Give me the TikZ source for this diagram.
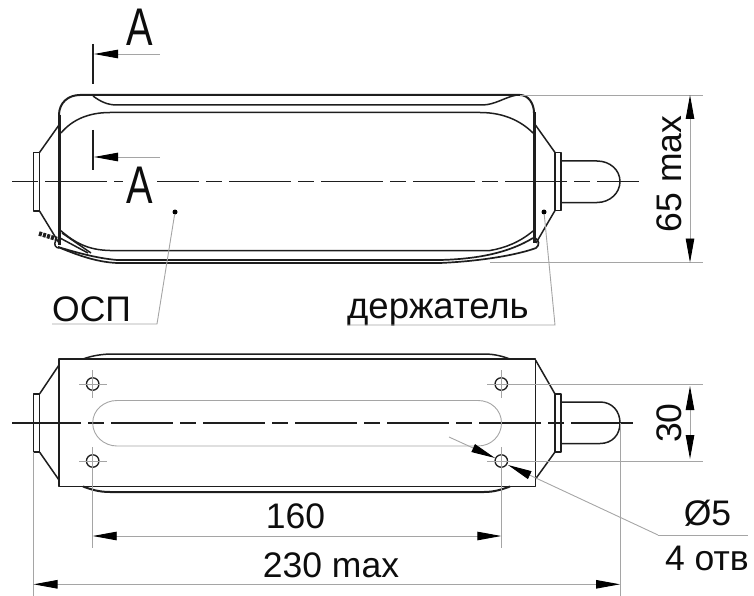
\documentclass[tikz,border=0pt]{standalone}
\usepackage{fontspec}
\setmainfont{Liberation Sans}
\usetikzlibrary{arrows.meta,positioning,calc}
\definecolor{c1}{RGB}{30, 30, 30}
\definecolor{c2}{RGB}{165, 165, 165}
\tikzset{
	body/.style={
		draw=c1, line width=1.5pt, line join=round
	},
	%
	bodythick/.style={
		draw=c1, line width=3pt
	},
	%
	extline/.style={
		draw=c2, line width=0.9pt
	},
	%
	axisline/.style={
		draw=c1, line width=1.4pt, dash pattern=on 62pt off 7pt on 16pt off 7pt
	},
	%
	dimline/.style={
		extline, >={Triangle[length=24pt,width=8.5pt,color=black,fill=black]}
	},
	%
	hole/.style={
		circle, draw=c1, line width=1.3pt, minimum size=12.5pt, inner sep=0pt
	},
	%
	point/.style={
		circle, fill=black, minimum size=5pt, inner sep=0pt
	},
	%
	dimtext/.style={
		font=\fontsize{35.5}{40}\selectfont, inner sep=0pt, text=black!95, anchor=base
	},
	%
	sectext/.style={
		font=\fontsize{53}{55}\selectfont, xscale=0.75, inner ysep=0pt, inner xsep=5pt, text=black!95, anchor=base
	},
	%
	secmark/.style={
		draw=c1, line width=2pt
	}
}

\begin{document}
\begin{tikzpicture}[x=1pt,y=-1pt]
\useasboundingbox (0,0) rectangle (754,596);
% top view
\draw[axisline, dash phase=0pt] (45,181.5) -- (639,181.5);
\draw[axisline, dash pattern=on 26pt off 100pt] (12,181.5) -- (38,181.5);
\draw[body] (59,125) -- (39.5,152.5) (59,243) -- (39.5,211);
\draw[body] (33.5,152.5) rectangle (39.5,211);
\draw[body] (534,123) -- (555,152.5) (555,210.5) -- (536,243);
\draw[body] (555,152.5) rectangle (561,210.5);
\draw[body] (561,161) -- (597,161) .. controls (610,161) and (620,170) .. (620,181.5) .. controls (620,193) and (610,202.5) .. (597,202.5) -- (561,202.5);
\draw[bodythick, line width=2pt] (59,115) .. controls (59,103) and (68,95) .. (80,95) -- (520,95) .. controls (528,95) and (534,103) .. (534,113);
\draw[bodythick] (59,115) -- (59,245);
\draw[bodythick] (534,112) -- (534,243);
\draw[body] (93,96) .. controls (101,102) and (108,105) .. (117,105) -- (482,105) .. controls (495,105) and (505,97) .. (517,95);
\draw[body] (61,133) .. controls (72,120) and (88,112.5) .. (110,112.5) -- (480,112.5) .. controls (505,112.5) and (522,122) .. (533,133);
% lower edge with the loose wires
\draw[body] (60,230) .. controls (75,243) and (88,250) .. (110,250.5) -- (490,250.5) .. controls (505,248) and (520,242) .. (533,231);
\draw[body] (60,238) -- (88,253);
\draw[body] (62,233) -- (91,253);
\draw[body, line width=1.7pt] (58,247) .. controls (75,252) and (95,258) .. (117,260) -- (440,260) .. controls (480,259) and (510,252) .. (533,238);
\draw[body, line width=1.7pt] (58,247) .. controls (75,254) and (95,262) .. (117,263) -- (440,263) .. controls (485,261) and (520,254) .. (536,248) .. controls (540,245) and (539,240) .. (535,238);
\draw[c1, line width=1.5pt] (56,240) .. controls (53,245) and (56,248) .. (59,248);
\draw[c1, line width=4.5pt, dash pattern=on 3pt off 1.2pt] (39,233.5) -- (57,239);
% section marks
\coordinate (secatip) at (94,54);
\coordinate (secatail) at (160,54);
\coordinate (secbtip) at (94,157);
\coordinate (secbtail) at (160,157);
\draw[secmark] (92.5,44) -- (92.5,84);
\draw[secmark] (92.5,130) -- (92.5,170);
\draw[dimline, ->] (secatail) -- (secatip);
\draw[dimline, ->] (secbtail) -- (secbtip);
\node(secatop)[sectext] at (140,46) {A};
\node(secabottom)[sectext, fill=white] at (140,203) {A};
% leaders
\node(ospdot)[point] at (175,212) {};
\node(holderdot)[point] at (544,212) {};
\node(osplabel)[dimtext, anchor=base west] at (52,321) {ОСП};
\node(holderlabel)[dimtext, anchor=base west, font=\fontsize{36.5}{40}\selectfont] at (347,318) {держатель};
\coordinate (ospkink) at (157,324);
\coordinate (ospend) at (52,324);
\coordinate (holderkink) at (555,325);
\coordinate (holderend) at (347,325);
\draw[extline] (ospdot) -- (ospkink) -- (ospend);
\draw[extline] (holderdot) -- (holderkink) -- (holderend);
% height
\coordinate (hta) at (690,95);
\coordinate (htb) at (690,262.5);
\draw[extline] (520,95) -- (703,95);
\draw[extline] (490,262.5) -- (703,262.5);
\draw[dimline, <->] (hta) -- (htb);
\node(height)[dimtext, rotate=90] at (681.7,174) {65 max};
% bottom view
\draw[axisline, dash phase=0pt] (19,423) -- (639,423);
\draw[axisline, dash pattern=on 7pt off 100pt] (12,423) -- (19,423);
\draw[body] (59,359) rectangle (535.5,486.5);
\draw[body] (59,365) -- (39.5,394) (59,480) -- (39.5,452);
\draw[body] (33.5,394) rectangle (39.5,452);
\draw[body] (535.5,360) -- (555,394) (555,452) -- (535.5,479);
\draw[body] (555,394) rectangle (561,452);
\draw[body] (561,402) -- (600,402) .. controls (612,402) and (620,411) .. (620,423) .. controls (620,435) and (612,443.5) .. (600,443.5) -- (561,443.5);
\draw[body] (83,359) .. controls (90,356.5) and (98,354.5) .. (110,354) -- (484,354) .. controls (495,354) and (503,356.5) .. (510,359);
\draw[body, line width=2pt] (83,486.5) .. controls (90,489) and (98,492) .. (110,492) -- (484,492) .. controls (495,492) and (503,489) .. (510,486.5);
\draw[extline] (117,400.5) -- (478,400.5) .. controls (491,400.5) and (501.5,410) .. (501.5,423) .. controls (501.5,436) and (491,446) .. (478,446) -- (117,446) .. controls (104,446) and (92.7,436) .. (92.7,423) .. controls (92.7,410) and (104,400.5) .. (117,400.5);
% holes
\node(holeA)[hole] at (92.7,384) {};
\node(holeB)[hole] at (92.7,461) {};
\node(holeC)[hole] at (501.3,384) {};
\node(holeD)[hole] at (501.3,461) {};
\draw[extline] (79,384) -- (107,384) (92.7,370) -- (92.7,398);
\draw[extline] (79,461) -- (107,461) (92.7,447) -- (92.7,548);
\draw[extline] (487,384) -- (703,384) (501.3,370) -- (501.3,398);
\draw[extline] (487,461) -- (703,461) (501.3,447) -- (501.3,548);
% dimensions
\coordinate (wa) at (92.7,536);
\coordinate (wb) at (501.3,536);
\coordinate (la) at (33.5,584.3);
\coordinate (lb) at (620,584.3);
\coordinate (ta) at (690,386);
\coordinate (tb) at (690,459);
\draw[extline] (33.5,452) -- (33.5,596);
\draw[extline] (620,423) -- (620,596);
\draw[dimline, <->] (wa) -- (wb);
\draw[dimline, <->] (la) -- (lb);
\draw[dimline, <->] (ta) -- (tb);
\node(width)[dimtext] at (295.5,528) {160};
\node(length)[dimtext] at (331,577) {230 max};
\node(spacing)[dimtext, rotate=90] at (681.7,423) {30};
% hole callout
\coordinate (calla) at (449,437);
\coordinate (callkink) at (658,535);
\coordinate (callend) at (748,535);
\coordinate (calltipa) at (495,458);
\coordinate (calltipb) at (508,465);
\draw[dimline, ->] (calla) -- (calltipa);
\draw[dimline, ->] (callkink) -- (calltipb);
\draw[extline] (callkink) -- (callend);
\node(diam)[dimtext] at (707.5,525) {Ø5};
\node(count)[dimtext] at (707,570) {4 отв};
\end{tikzpicture}
\end{document}
